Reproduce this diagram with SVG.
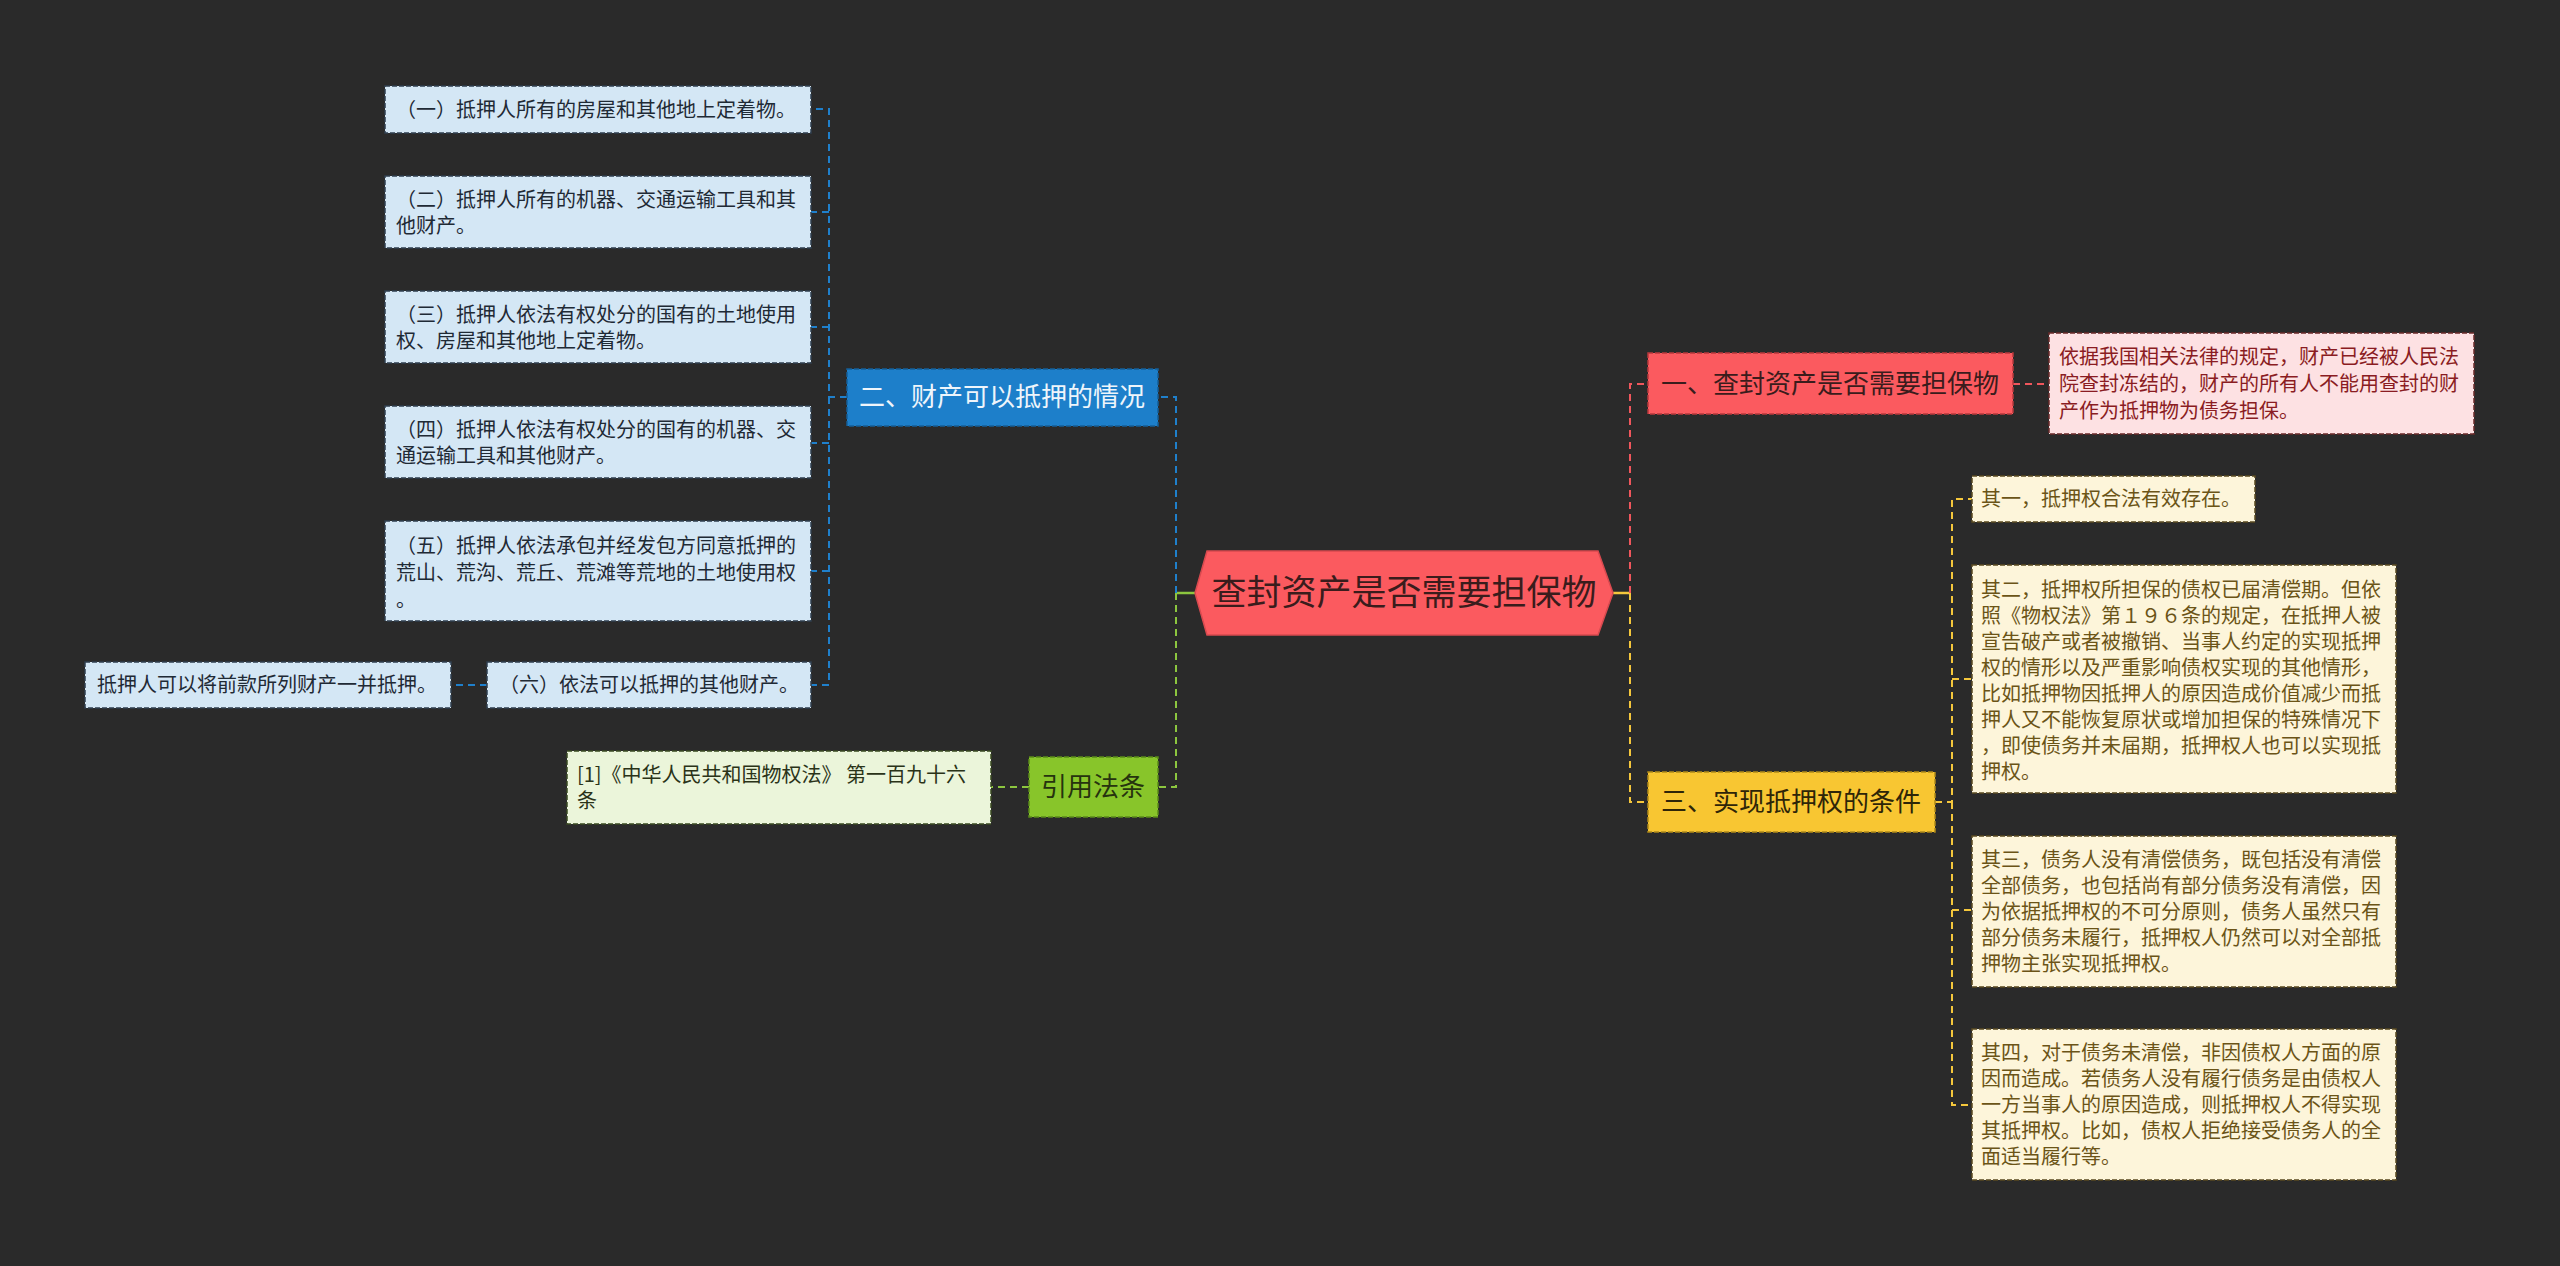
<svg xmlns="http://www.w3.org/2000/svg" width="2560" height="1266" viewBox="0 0 2560 1266">
<style>
text{font-family:"Noto Sans CJK SC","Noto Sans",sans-serif;}
.bx{stroke-width:1.5;stroke-dasharray:5 2;}
.lb{fill:#d4e7f5;stroke:#2f3f4f;}
.lbt{font-size:20px;fill:#1f2a35;}
.yb{fill:#fdf5da;stroke:#5a4a20;}
.ybt{font-size:20px;fill:#6b5417;}
.pb{fill:#fde1e3;stroke:#6a2a2a;}
.pbt{font-size:20px;fill:#8a1c22;}
.gb{fill:#ebf5da;stroke:#3a4a22;}
.gbt{font-size:20px;fill:#2a3318;}
.nt{font-size:26px;text-anchor:middle;}
.c{fill:none;stroke-width:2;stroke-dasharray:7 5;}
.cb{stroke:#1f80cc;}
.cg{stroke:#8cc63f;}
.cr{stroke:#f0565c;}
.cy{stroke:#f5c73c;}
</style>
<rect x="0" y="0" width="2560" height="1266" fill="#2a2a2a"/>
<g id="connectors">
  <line x1="1195" y1="593" x2="1176" y2="593" stroke="#8cc63f" stroke-width="2.5"/>
  <line x1="1613" y1="593" x2="1630" y2="593" stroke="#f5c73c" stroke-width="2.5"/>
  <path class="c cb" d="M1176,593 V397 H1158"/>
  <path class="c cg" d="M1176,593 V787 H1158"/>
  <path class="c cr" d="M1630,593 V384 H1648"/>
  <path class="c cy" d="M1630,593 V802 H1648"/>
  <path class="c cb" d="M847,397 H829 V109 H811"/>
  <path class="c cb" d="M829,212 H811"/>
  <path class="c cb" d="M829,327 H811"/>
  <path class="c cb" d="M829,443 H811"/>
  <path class="c cb" d="M829,571 H811"/>
  <path class="c cb" d="M829,397 V685 H811"/>
  <path class="c cb" d="M487,685 H451"/>
  <path class="c cg" d="M1029,787 H991"/>
  <path class="c cr" d="M2013,384 H2049"/>
  <path class="c cy" d="M1935,802 H1952 V499 H1972"/>
  <path class="c cy" d="M1952,679 H1972"/>
  <path class="c cy" d="M1952,910 H1972"/>
  <path class="c cy" d="M1952,802 V1105 H1972"/>
</g>
<g id="root">
  <polygon points="1195,593 1207,551 1598,551 1613,593 1598,635 1207,635" fill="#fb5a5f" stroke="#d84a4f" stroke-width="1.5"/>
  <text x="1404" y="605" font-size="35" text-anchor="middle" fill="#3a1c1c">查封资产是否需要担保物</text>
</g>
<g id="n-blue">
  <rect x="847" y="369" width="311" height="57" fill="#1d7fca" stroke="#155f98" class="bx"/>
  <text class="nt" x="1002" y="406" fill="#eef5fb">二、财产可以抵押的情况</text>
</g>
<g id="n-green">
  <rect x="1029" y="757" width="129" height="60" fill="#88c52a" stroke="#5a8a1a" class="bx"/>
  <text class="nt" x="1093" y="796" fill="#26330e">引用法条</text>
</g>
<g id="n-red">
  <rect x="1648" y="353" width="365" height="61" fill="#fb5a5f" stroke="#b8383c" class="bx"/>
  <text class="nt" x="1830" y="393" fill="#3a1c1c">一、查封资产是否需要担保物</text>
</g>
<g id="n-yellow">
  <rect x="1648" y="772" width="287" height="60" fill="#f8c632" stroke="#b08a1a" class="bx"/>
  <text class="nt" x="1791" y="811" fill="#2e2508">三、实现抵押权的条件</text>
</g>
<g id="l1">
  <rect class="bx lb" x="385" y="86" width="426" height="47"/>
  <text class="lbt" x="396" y="117">（一）抵押人所有的房屋和其他地上定着物。</text>
</g>
<g id="l2">
  <rect class="bx lb" x="385" y="176" width="426" height="72"/>
  <text class="lbt" x="396" y="207">（二）抵押人所有的机器、交通运输工具和其</text>
  <text class="lbt" x="396" y="233">他财产。</text>
</g>
<g id="l3">
  <rect class="bx lb" x="385" y="291" width="426" height="72"/>
  <text class="lbt" x="396" y="322">（三）抵押人依法有权处分的国有的土地使用</text>
  <text class="lbt" x="396" y="348">权、房屋和其他地上定着物。</text>
</g>
<g id="l4">
  <rect class="bx lb" x="385" y="406" width="426" height="72"/>
  <text class="lbt" x="396" y="437">（四）抵押人依法有权处分的国有的机器、交</text>
  <text class="lbt" x="396" y="463">通运输工具和其他财产。</text>
</g>
<g id="l5">
  <rect class="bx lb" x="385" y="521" width="426" height="100"/>
  <text class="lbt" x="396" y="553">（五）抵押人依法承包并经发包方同意抵押的</text>
  <text class="lbt" x="396" y="580">荒山、荒沟、荒丘、荒滩等荒地的土地使用权</text>
  <text class="lbt" x="396" y="607">。</text>
</g>
<g id="l6">
  <rect class="bx lb" x="487" y="662" width="324" height="46"/>
  <text class="lbt" x="499" y="692">（六）依法可以抵押的其他财产。</text>
</g>
<g id="l7">
  <rect class="bx lb" x="85" y="662" width="366" height="46"/>
  <text class="lbt" x="97" y="692">抵押人可以将前款所列财产一并抵押。</text>
</g>
<g id="cite">
  <rect class="bx gb" x="567" y="751" width="424" height="73"/>
  <text class="gbt" x="577" y="782">[1]《中华人民共和国物权法》 第一百九十六</text>
  <text class="gbt" x="577" y="808">条</text>
</g>
<g id="pink">
  <rect class="bx pb" x="2049" y="333" width="425" height="101"/>
  <text class="pbt" x="2059" y="364">依据我国相关法律的规定，财产已经被人民法</text>
  <text class="pbt" x="2059" y="391">院查封冻结的，财产的所有人不能用查封的财</text>
  <text class="pbt" x="2059" y="418">产作为抵押物为债务担保。</text>
</g>
<g id="y1">
  <rect class="bx yb" x="1972" y="476" width="283" height="46"/>
  <text class="ybt" x="1981" y="506">其一，抵押权合法有效存在。</text>
</g>
<g id="y2">
  <rect class="bx yb" x="1972" y="565" width="424" height="228"/>
  <text class="ybt" x="1981" y="597">其二，抵押权所担保的债权已届清偿期。但依</text>
  <text class="ybt" x="1981" y="623">照《物权法》第１９６条的规定，在抵押人被</text>
  <text class="ybt" x="1981" y="649">宣告破产或者被撤销、当事人约定的实现抵押</text>
  <text class="ybt" x="1981" y="675">权的情形以及严重影响债权实现的其他情形，</text>
  <text class="ybt" x="1981" y="701">比如抵押物因抵押人的原因造成价值减少而抵</text>
  <text class="ybt" x="1981" y="727">押人又不能恢复原状或增加担保的特殊情况下</text>
  <text class="ybt" x="1981" y="753">，即使债务并未届期，抵押权人也可以实现抵</text>
  <text class="ybt" x="1981" y="779">押权。</text>
</g>
<g id="y3">
  <rect class="bx yb" x="1972" y="836" width="424" height="151"/>
  <text class="ybt" x="1981" y="867">其三，债务人没有清偿债务，既包括没有清偿</text>
  <text class="ybt" x="1981" y="893">全部债务，也包括尚有部分债务没有清偿，因</text>
  <text class="ybt" x="1981" y="919">为依据抵押权的不可分原则，债务人虽然只有</text>
  <text class="ybt" x="1981" y="945">部分债务未履行，抵押权人仍然可以对全部抵</text>
  <text class="ybt" x="1981" y="971">押物主张实现抵押权。</text>
</g>
<g id="y4">
  <rect class="bx yb" x="1972" y="1029" width="424" height="151"/>
  <text class="ybt" x="1981" y="1060">其四，对于债务未清偿，非因债权人方面的原</text>
  <text class="ybt" x="1981" y="1086">因而造成。若债务人没有履行债务是由债权人</text>
  <text class="ybt" x="1981" y="1112">一方当事人的原因造成，则抵押权人不得实现</text>
  <text class="ybt" x="1981" y="1138">其抵押权。比如，债权人拒绝接受债务人的全</text>
  <text class="ybt" x="1981" y="1164">面适当履行等。</text>
</g>
</svg>
